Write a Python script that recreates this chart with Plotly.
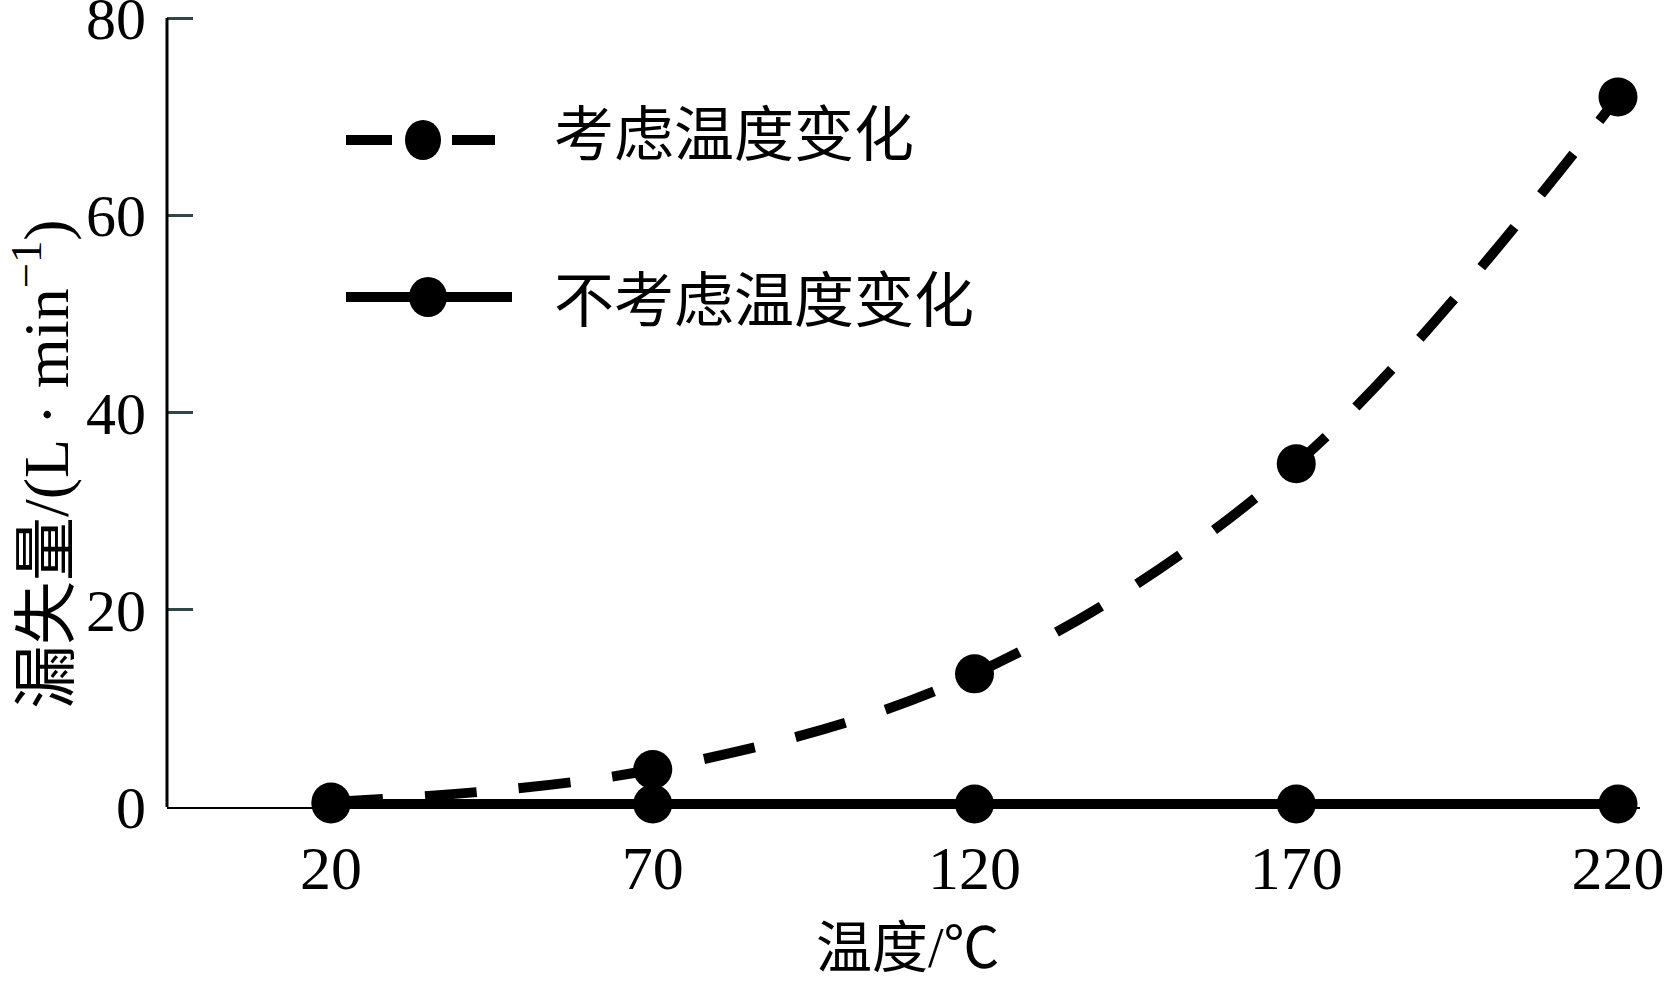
import plotly.graph_objects as go

# ---- data ----
temperature = [20, 70, 120, 170, 220]
leak_with_temp = [0.5, 3.8, 13.5, 34.8, 72.0]
leak_without_temp = [0.3, 0.3, 0.3, 0.3, 0.3]
x_ticks = [20, 70, 120, 170, 220]
y_ticks = [0, 20, 40, 60, 80]
legend_names = ["考虑温度变化", "不考虑温度变化"]

W_FIG, H_FIG = 1671, 982
L, R, T, B = 167, 31, 8, 175
PW, PH = W_FIG - L - R, H_FIG - T - B
Y_TOP = 80 * PH / (H_FIG - B - 18)  # keeps value 80 at pixel row 18


def px(X):
    return (X - L) / PW


def py(Y):
    return (H_FIG - B - Y) / PH


LAT = "Liberation Serif, Times New Roman, serif"
CJK = "Liberation Serif, Noto Sans CJK SC, serif"

fig = go.Figure()

fig.add_trace(go.Scatter(
    x=temperature, y=leak_without_temp, mode="lines+markers",
    name=legend_names[1],
    line=dict(color="black", width=10, shape="spline"),
    marker=dict(size=39, color="black"),
    cliponaxis=False, showlegend=False,
))
fig.add_trace(go.Scatter(
    x=temperature, y=leak_with_temp, mode="lines+markers",
    name=legend_names[0],
    line=dict(color="black", width=10, dash="52px,42px", shape="spline", smoothing=1.0),
    marker=dict(size=39, color="black"),
    cliponaxis=False, showlegend=False,
))

# ---- hand-made legend (positions only) ----
shapes = []
ann = []
yl1 = 140
shapes.append(dict(type="line", xref="paper", yref="paper", x0=px(346), x1=px(392), y0=py(yl1), y1=py(yl1),
                   line=dict(color="black", width=10)))
shapes.append(dict(type="line", xref="paper", yref="paper", x0=px(452), x1=px(495), y0=py(yl1), y1=py(yl1),
                   line=dict(color="black", width=10)))
shapes.append(dict(type="circle", xref="paper", yref="paper", x0=px(405), x1=px(441), y0=py(yl1 - 20), y1=py(yl1 + 20),
                   fillcolor="black", line=dict(color="black", width=0)))
yl2 = 297
shapes.append(dict(type="line", xref="paper", yref="paper", x0=px(346), x1=px(512), y0=py(yl2), y1=py(yl2),
                   line=dict(color="black", width=10)))
shapes.append(dict(type="circle", xref="paper", yref="paper", x0=px(409), x1=px(447), y0=py(yl2 - 20), y1=py(yl2 + 20),
                   fillcolor="black", line=dict(color="black", width=0)))

ann.append(dict(text=legend_names[0], xref="paper", yref="paper", x=px(552), y=py(136),
                xanchor="left", yanchor="middle", showarrow=False,
                font=dict(family=CJK, size=60, color="black")))
ann.append(dict(text=legend_names[1], xref="paper", yref="paper", x=px(552), y=py(302),
                xanchor="left", yanchor="middle", showarrow=False,
                font=dict(family=CJK, size=60, color="black")))

ann.append(dict(text="漏失量/(L · min<sup>−1</sup>)", xref="paper", yref="paper", x=px(41), y=py(464),
                xanchor="center", yanchor="middle", textangle=-90, showarrow=False,
                font=dict(family=CJK, size=64, color="black")))
ann.append(dict(text="温度/℃", xref="paper", yref="paper", x=px(908), y=py(948),
                xanchor="center", yanchor="middle", showarrow=False,
                font=dict(family=CJK, size=56, color="black")))

x_per_px = 200 / (1618 - 331)
x_min = 20 - (331 - L) * x_per_px
x_max = x_min + PW * x_per_px

fig.update_layout(
    width=W_FIG, height=H_FIG,
    margin=dict(l=L, r=R, t=T, b=B, autoexpand=False),
    paper_bgcolor="white", plot_bgcolor="white",
    shapes=shapes, annotations=ann,
    xaxis=dict(range=[x_min, x_max], tickvals=x_ticks, ticktext=[str(v) for v in x_ticks],
               showgrid=False, zeroline=False, showline=True, linecolor="black", linewidth=2,
               ticks="", ticklabelstandoff=6, ticklabeloverflow="allow", automargin=False,
               tickfont=dict(family=LAT, size=62, color="black")),
    yaxis=dict(range=[0, Y_TOP], tickvals=y_ticks, ticktext=[str(v) for v in y_ticks],
               showgrid=False, zeroline=False, showline=False,
               ticks="inside", ticklen=26, tickwidth=3, tickcolor="#2f4747",
               ticklabelstandoff=20, ticklabeloverflow="allow", automargin=False,
               tickfont=dict(family=LAT, size=60, color="black")),
)
# y axis line runs from 0 up to 80 only (as in the reference)
fig.add_shape(type="line", xref="x domain", yref="y", x0=0, x1=0, y0=0, y1=80,
              line=dict(color="black", width=3))

fig.write_html("out.html", post_script="document.body.style.margin='0';",
               config={"displayModeBar": False})
